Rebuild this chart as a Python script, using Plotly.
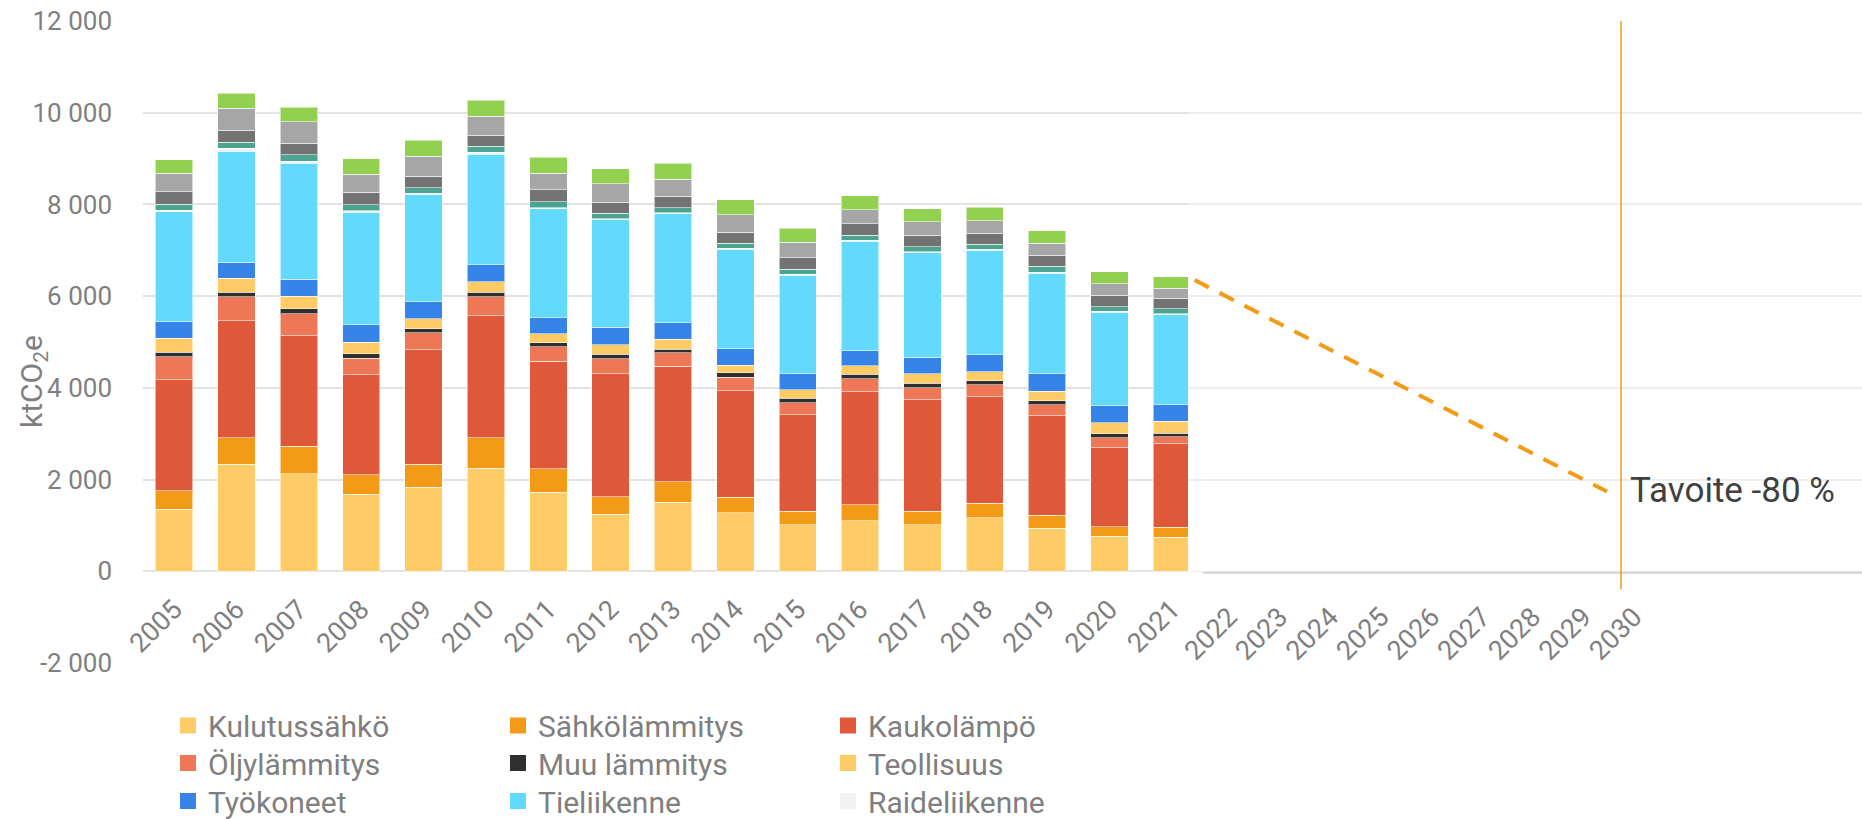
import plotly.graph_objects as go

# ---------------- data (ktCO2e) ----------------
years = ["2005", "2006", "2007", "2008", "2009", "2010", "2011", "2012", "2013",
         "2014", "2015", "2016", "2017", "2018", "2019", "2020", "2021"]

kulutussahko = [1348, 2332, 2127, 1676, 1829, 2251, 1719, 1246, 1508, 1282, 1020, 1107, 1020, 1166, 940, 765, 743]
sahkolammitys = [408, 575, 598, 430, 503, 656, 518, 379, 445, 328, 284, 343, 284, 320, 277, 211, 219]
kaukolampo = [2419, 2558, 2412, 2178, 2499, 2667, 2339, 2688, 2513, 2332, 2106, 2470, 2441, 2325, 2178, 1713, 1821]
oljylammitys = [503, 520, 480, 364, 371, 411, 320, 321, 299, 291, 269, 277, 262, 255, 233, 218, 146]
muu_lammitys = [102, 102, 103, 95, 88, 102, 88, 102, 80, 95, 95, 102, 95, 94, 95, 88, 80]
teollisuus = [306, 299, 280, 248, 218, 226, 196, 204, 211, 160, 190, 182, 204, 190, 204, 240, 262]
tyokoneet = [357, 350, 364, 386, 372, 372, 350, 379, 365, 364, 349, 328, 357, 371, 379, 372, 365]
tieliikenne = [2393, 2426, 2536, 2452, 2328, 2412, 2372, 2342, 2371, 2175, 2146, 2393, 2284, 2284, 2197, 2038, 1963]
raideliikenne = [37, 58, 44, 36, 36, 43, 29, 22, 22, 22, 22, 22, 22, 22, 22, 22, 22]
vesiliikenne = [131, 139, 138, 124, 117, 124, 124, 124, 117, 102, 109, 102, 109, 109, 131, 102, 102]
jatteet = [269, 255, 255, 277, 255, 248, 262, 240, 248, 241, 248, 255, 248, 234, 240, 248, 226]
f_kaasut = [408, 488, 466, 393, 437, 415, 364, 401, 371, 378, 342, 306, 291, 277, 262, 248, 226]
maatalous = [292, 321, 321, 336, 350, 343, 343, 335, 343, 336, 306, 306, 291, 291, 270, 269, 247]

future_years = [2022, 2023, 2024, 2025, 2026, 2027, 2028, 2029, 2030]
target_years = [2021, 2030]
target_values = [6350, 1740]
target_label = "Tavoite -80 %"
target_label_value = 1766
target_marker_bottom = -390  # the target year marker reaches a little below the axis

y_tickvals = [-2000, 0, 2000, 4000, 6000, 8000, 10000, 12000]
y_ticktext = ["-2 000", "0", "2 000", "4 000", "6 000", "8 000", "10 000", "12 000"]

# name, values, colour, legend row (None = not shown)
series = [
    ("Kulutussähkö", kulutussahko, "#fecb67", "legend"),
    ("Sähkölämmitys", sahkolammitys, "#f39a17", "legend"),
    ("Kaukolämpö", kaukolampo, "#e0583a", "legend"),
    ("Öljylämmitys", oljylammitys, "#ee7756", "legend2"),
    ("Muu lämmitys", muu_lammitys, "#2f2f2f", "legend2"),
    ("Teollisuus", teollisuus, "#fecb67", "legend2"),
    ("Työkoneet", tyokoneet, "#3784e8", "legend3"),
    ("Tieliikenne", tieliikenne, "#63d9fe", "legend3"),
    ("Raideliikenne", raideliikenne, "#f2f2f2", "legend3"),
    ("Vesiliikenne", vesiliikenne, "#4aa48f", None),
    ("Jätteiden käsittely", jatteet, "#737373", None),
    ("F-kaasut", f_kaasut, "#a6a6a6", None),
    ("Maatalous", maatalous, "#92d050", None),
]

FONT = "Roboto"
GRAY = "#7f7f7f"

# ---------------- geometry (pixels) ----------------
W, H = 1862, 819
ML, MR, MT, MB = 143, 0, 21, 156
PW = W - ML - MR
PH = H - MT - MB
YMIN, YMAX = -2000, 12000
zero_pos = (0 - YMIN) / (YMAX - YMIN)


def paper_y(v):
    return (v - YMIN) / (YMAX - YMIN)


left_end_px = 1203
x_dom_end = (left_end_px - ML) / PW

# future axis: 2030 at 1621 px, 50.6 px per year
px_per_year2 = 50.6
x2_range0 = 2030 - (1621 - left_end_px) / px_per_year2
x2_range1 = x2_range0 + (W - MR - left_end_px) / px_per_year2

# trajectory axis: 2021 -> 1194.6 px, 2030 -> 1607 px
x3_start_px = 1188
x3_dom_start = (x3_start_px - ML) / PW
ppy3 = (1607 - 1194.6) / 9
x3_range0 = 2021 - (1194.6 - x3_start_px) / ppy3
x3_range1 = x3_range0 + (W - MR - x3_start_px) / ppy3

fig = go.Figure()

for name, vals, color, leg in series:
    fig.add_trace(go.Bar(
        x=years, y=vals, name=name, legendgroup=name,
        marker=dict(color=color, line=dict(color="rgba(255,255,255,0.55)", width=1)),
        showlegend=False,
        xaxis="x", yaxis="y",
    ))

# legend entries (square swatches, larger than the default bar swatch)
for name, vals, color, leg in series:
    if leg is None:
        continue
    fig.add_trace(go.Scatter(
        x=[None], y=[None], mode="markers", name=name, legendgroup=name,
        marker=dict(symbol="square", size=16, color=color),
        legend=leg, showlegend=True, xaxis="x", yaxis="y", hoverinfo="skip",
    ))

fig.add_trace(go.Scatter(
    x=target_years, y=target_values, mode="lines",
    line=dict(color="#f39a17", width=4, dash="16px,12px"),
    xaxis="x3", yaxis="y2", showlegend=False,
))

tickfont = dict(family=FONT, size=27, color=GRAY)

legend_common = dict(
    orientation="h", xref="paper", yref="paper", x=(168 - ML) / PW,
    xanchor="left", yanchor="middle", entrywidth=285, entrywidthmode="pixels",
    font=dict(family=FONT, size=30, color=GRAY), traceorder="normal",
    bgcolor="rgba(0,0,0,0)", itemclick=False, itemdoubleclick=False,
)


def row_y(px):
    return (MT + PH - px) / PH


fig.update_layout(
    width=W, height=H,
    margin=dict(l=ML, r=MR, t=MT, b=MB, autoexpand=False),
    paper_bgcolor="white", plot_bgcolor="white",
    barmode="stack", bargap=0.4,
    font=dict(family=FONT, color=GRAY),
    legend=dict(legend_common, y=row_y(725.5)),
    legend2=dict(legend_common, y=row_y(763)),
    legend3=dict(legend_common, y=row_y(801)),
    xaxis=dict(
        type="category", domain=[0, x_dom_end], anchor="free", position=zero_pos,
        tickangle=-45, tickfont=tickfont, showgrid=False, showline=False,
        ticks="", zeroline=False, ticklabelstandoff=16,
    ),
    yaxis=dict(
        range=[YMIN, YMAX], domain=[0, 1], anchor="x",
        tickvals=y_tickvals, ticktext=y_ticktext,
        tickfont=dict(family=FONT, size=26, color=GRAY),
        gridcolor="#e2e2e2", gridwidth=2, zeroline=False, showline=False,
        ticks="", ticklabelstandoff=30,
    ),
    yaxis2=dict(
        range=[0, YMAX], domain=[zero_pos, 1], anchor="x2",
        tickvals=y_tickvals[2:], showticklabels=False,
        gridcolor="#eeeeee", gridwidth=2, zeroline=False, showline=False, ticks="",
    ),
    xaxis2=dict(
        type="linear", domain=[x_dom_end, 1], anchor="y2",
        range=[x2_range0, x2_range1], tickvals=future_years,
        ticktext=[str(v) for v in future_years],
        tickangle=-45, tickfont=tickfont, showgrid=False, zeroline=False,
        showline=True, linecolor="#d9d9d9", linewidth=3, ticks="",
        ticklabelstandoff=16, ticklabelshift=13,
    ),
    xaxis3=dict(
        type="linear", domain=[x3_dom_start, 1], anchor="y2",
        range=[x3_range0, x3_range1], showticklabels=False, showgrid=False,
        zeroline=False, showline=False, ticks="",
    ),
    shapes=[
        dict(
            type="line", xref="x2", yref="paper",
            x0=target_years[-1], x1=target_years[-1],
            y0=paper_y(target_marker_bottom), y1=paper_y(YMAX),
            line=dict(color="#f39a17", width=1.5), layer="above",
        ),
    ],
    annotations=[
        dict(
            text=target_label, xref="x2", yref="paper", x=target_years[-1],
            y=paper_y(target_label_value),
            xanchor="left", yanchor="middle", xshift=7, showarrow=False,
            font=dict(family=FONT, size=35, color="#404040"),
        ),
        dict(
            text="ktCO<sub>2</sub>e", xref="paper", yref="paper",
            x=(33 - ML) / PW, y=(MT + PH - 382) / PH,
            xanchor="center", yanchor="middle", textangle=-90, showarrow=False,
            font=dict(family=FONT, size=30, color=GRAY),
        ),
    ],
)

fig.write_html(
    "out.html",
    config={"displayModeBar": False},
    post_script="document.body.style.margin='0';document.body.style.overflow='hidden';",
)
